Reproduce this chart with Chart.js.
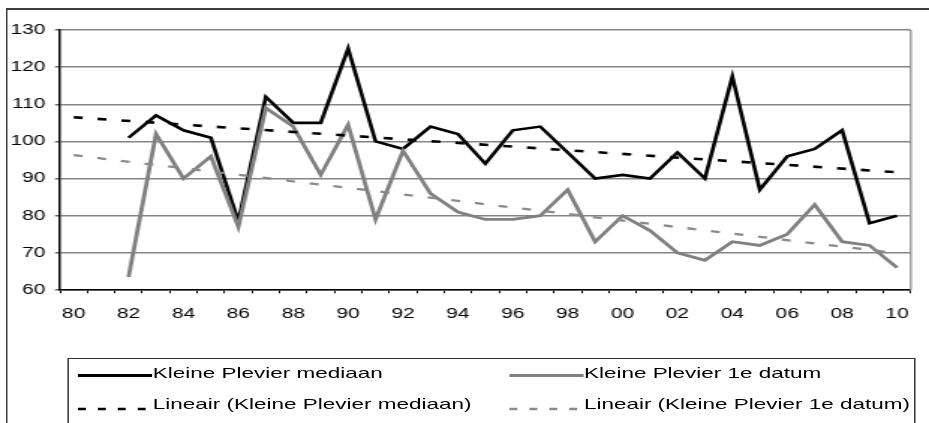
<!DOCTYPE html>
<html>
<head>
<meta charset="utf-8">
<title>Kleine Plevier</title>
<script src="https://cdn.jsdelivr.net/npm/chart.js@4.4.1/dist/chart.umd.min.js"></script>
<style>
    html, body { margin: 0; padding: 0; background: #fff; overflow: hidden; }
    /* the original chart is stretched horizontally, so draw narrow and stretch */
    #stage { position: absolute; left: 0; top: 0; width: 620px; height: 423px; transform: scaleX(1.4984); transform-origin: 0 0; }
    #frame { position: absolute; left: 4.3px; top: 8px; width: 700px; height: 500px; border-top: 2px solid #3c3c3c; border-left: 1.4px solid #3c3c3c; }
    #chartBox { position: absolute; left: 0; top: 0; width: 620px; height: 423px; }
    #legend { position: absolute; left: 44.7px; top: 358px; width: 566px; height: 100px; border: 1px solid #333; box-sizing: border-box; }
    .item { position: absolute; height: 17px; font: 15px Arial, "Liberation Sans", sans-serif; line-height: 17px; color: #000; white-space: nowrap; }
    .item svg { position: absolute; left: 0; top: 0; overflow: visible; }
    .item span { position: absolute; top: 0; }
</style>
</head>
<body>
<div id="stage">
    <div id="frame"></div>
    <div id="chartBox"><canvas id="plevierChart"></canvas></div>
    <div id="legend"></div>
</div>
<script>
// years 1980 - 2010, shown as two digits
const years = ['80', '81', '82', '83', '84', '85', '86', '87', '88', '89',
    '90', '91', '92', '93', '94', '95', '96', '97', '98', '99',
    '00', '01', '02', '03', '04', '05', '06', '07', '08', '09', '10'];

const mediaan = [null, null, 101, 107, 103, 101, 78.5, 112, 105, 105,
    125, 100, 98, 104, 102, 94, 103, 104, 97, 90,
    91, 90, 97, 90, 117.5, 87, 96, 98, 103, 78, 80];

const eersteDatum = [null, null, 63.5, 102, 90, 96, 77, 109, 104, 91,
    104.5, 79, 97.5, 86, 81, 79, 79, 80, 87, 73,
    80, 76, 70, 68, 73, 72, 75, 83, 73, 72, 66];

// linear trend lines: value at first and last year
const trendMediaan = [106.5, 91.7];
const trendEersteDatum = [96.3, 69.9];

const yMin = 60;
const yMax = 130;
const yStep = 10;

const seriesLabels = [
    'Kleine Plevier mediaan',
    'Kleine Plevier 1e datum',
    'Lineair (Kleine Plevier mediaan)',
    'Lineair (Kleine Plevier 1e datum)'
];

function trendPoints(ends) {
    return [{ x: years[0], y: ends[0] }, { x: years[years.length - 1], y: ends[1] }];
}

const plotBorder = {
    id: 'plotBorder',
    beforeDatasetsDraw(chart) {
        const { ctx, chartArea } = chart;
        ctx.save();
        ctx.strokeStyle = '#8a8a8a';
        ctx.lineWidth = 1.3;
        ctx.beginPath();
        ctx.moveTo(chartArea.right, chartArea.top);
        ctx.lineTo(chartArea.right, chartArea.bottom);
        ctx.stroke();
        ctx.restore();
    }
};

Chart.defaults.font.family = 'Arial, "Liberation Sans", sans-serif';
Chart.defaults.color = '#000';

const datasets = [
    { label: seriesLabels[0], data: mediaan, borderColor: '#000', borderWidth: 2.6, order: 3 },
    { label: seriesLabels[1], data: eersteDatum, borderColor: '#808080', borderWidth: 2.8, order: 2 },
    { label: seriesLabels[2], data: trendPoints(trendMediaan), borderColor: '#000', borderWidth: 2.6, borderDash: [6, 10], order: 1 },
    { label: seriesLabels[3], data: trendPoints(trendEersteDatum), borderColor: '#8a8a8a', borderWidth: 2.3, borderDash: [6, 10], order: 0 }
];
datasets.forEach(ds => {
    ds.pointRadius = 0;
    ds.pointHoverRadius = 0;
    ds.tension = 0;
    ds.fill = false;
    ds.spanGaps = false;
});

const chart = new Chart(document.getElementById('plevierChart'), {
    type: 'line',
    data: { labels: years, datasets: datasets },
    options: {
        responsive: true,
        maintainAspectRatio: false,
        animation: false,
        events: [],
        layout: { padding: { left: 0, top: 30, right: 12.2, bottom: 0 } },
        plugins: {
            legend: { display: false },
            tooltip: { enabled: false }
        },
        scales: {
            x: {
                offset: true,
                grid: { offset: true, drawOnChartArea: false, drawTicks: true, tickLength: 3.3, tickColor: '#000', tickWidth: 1 },
                border: { color: '#000', width: 1.5 },
                ticks: {
                    autoSkip: false,
                    maxRotation: 0,
                    padding: 12,
                    font: { size: 14 },
                    callback: (value, index) => index % 2 === 0 ? years[index] : ''
                },
                afterFit: scale => { scale.height = 133; }
            },
            y: {
                min: yMin,
                max: yMax,
                grid: { color: '#858585', lineWidth: 1.5, tickColor: '#6a6a6a', tickLength: 3.3 },
                border: { color: '#000', width: 1.5 },
                ticks: { stepSize: yStep, padding: 6.3, font: { size: 14 } },
                afterFit: scale => { scale.width = 40; }
            }
        }
    },
    plugins: [plotBorder]
});

// legend in two columns, like the original
const legendItems = [
    { ds: 0, col: 0, row: 0 },
    { ds: 1, col: 1, row: 0 },
    { ds: 2, col: 0, row: 1 },
    { ds: 3, col: 1, row: 1 }
];
const colX = [6.3, 294];
const rowY = [5, 36];
const legend = document.getElementById('legend');
legendItems.forEach(item => {
    const ds = datasets[item.ds];
    const div = document.createElement('div');
    div.className = 'item';
    div.style.left = colX[item.col] + 'px';
    div.style.top = rowY[item.row] + 'px';
    const dash = ds.borderDash ? 'stroke-dasharray="5.3 8"' : '';
    const lineY = item.row === 0 ? 11.5 : 14;
    div.innerHTML = '<svg width="50" height="17"><line x1="0" y1="' + lineY + '" x2="49.5" y2="' + lineY +
        '" stroke="' + ds.borderColor + '" stroke-width="' + (item.row === 0 ? 3 : 2.5) + '" ' + dash + '/></svg>' +
        '<span style="left:50px">' + ds.label + '</span>';
    legend.appendChild(div);
});
</script>
</body>
</html>
